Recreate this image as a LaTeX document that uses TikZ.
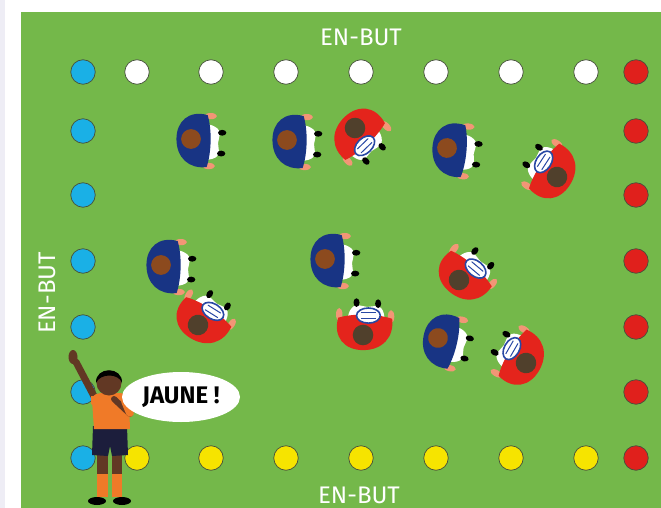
\documentclass[tikz,border=0pt]{standalone}
\usepackage{fontspec}
\setmainfont{Fira Sans}
\usetikzlibrary{shapes.geometric}

\definecolor{field}{RGB}{116,184,74}
\definecolor{edgegray}{RGB}{238,237,245}
\definecolor{coneblue}{RGB}{26,176,230}
\definecolor{conered}{RGB}{224,32,28}
\definecolor{coneyellow}{RGB}{246,228,0}
\definecolor{coneline}{RGB}{70,80,60}
\definecolor{navy}{RGB}{24,52,132}
\definecolor{redj}{RGB}{228,36,28}
\definecolor{skin}{RGB}{242,150,118}
\definecolor{headbrown}{RGB}{140,74,30}
\definecolor{headdark}{RGB}{80,64,44}
\definecolor{ballblue}{RGB}{40,72,164}
\definecolor{refskin}{RGB}{98,56,36}
\definecolor{refshirt}{RGB}{240,122,40}
\definecolor{refshorts}{RGB}{28,30,60}

% body of a player seen from above, facing local +x
\newcommand\playerbody[2]{%
  \fill[white] (4,-14) .. controls (18,-16) and (26,-12) .. (28,-6) -- (26,4)
     -- (27,13) .. controls (26,19) and (18,21) .. (4,20) -- cycle;
  \fill[black] (30,-6) ellipse [x radius=4pt, y radius=2.8pt];
  \fill[black] (29,14) ellipse [x radius=4pt, y radius=2.8pt];
  \fill[skin] (19,-22) ellipse [x radius=6pt, y radius=3pt];
  \fill[skin] (17,26) ellipse [x radius=6pt, y radius=3pt];
  \fill[#1] (16,-23) .. controls (-2,-28) and (-14,-17) .. (-14,0)
     .. controls (-14,18) and (-2,29) .. (15,27)
     .. controls (20,12) and (20,-10) .. (16,-23) -- cycle;
  \fill[#2] (0,0) circle [radius=9.5pt];
}
\newcommand\rugbyball{%
  \filldraw[fill=white, draw=ballblue, line width=1.6pt] (18,5) ellipse [x radius=7pt, y radius=11pt];
  \draw[ballblue, line width=1pt] (15.5,-2) -- (15.5,12) (20.5,-2) -- (20.5,12);
}

\tikzset{
  pics/blueplayer/.style={code={\playerbody{navy}{headbrown}}},
  pics/redplayer/.style={code={\playerbody{redj}{headdark}\rugbyball}},
  cone/.style={circle, draw=coneline, line width=0.7pt, minimum size=24.5pt, inner sep=0pt},
  goaltext/.style={text=white, font=\fontsize{24}{24}\selectfont, inner sep=0pt},
  bubble/.style={ellipse, fill=white, minimum width=118pt, minimum height=50pt, inner sep=0pt,
    font=\bfseries\fontsize{24}{24}\selectfont}
}

\begin{document}
\begin{tikzpicture}[x=1pt, y=-1pt]
\useasboundingbox (0,0) rectangle (661,508);
\fill[white] (0,0) rectangle (661,508);
\fill[edgegray] (0,0) rectangle (5,508);
\fill[field] (21,12) rectangle (661,508);

% goal-line labels
\node[goaltext] (topgoal) at (361,37) {EN-BUT};
\node[goaltext] (botgoal) at (359,495) {EN-BUT};
\node[goaltext, rotate=90] (leftgoal) at (47,293) {EN-BUT};

% cones along the four sides
\foreach \x [count=\i] in {137,211,286,361,436,511,586} {
  \node[cone, fill=white] (top\i) at (\x,72) {};
  \node[cone, fill=coneyellow] (bot\i) at (\x,458) {};
}
\foreach \y [count=\i] in {72,131,195,261,327,392,458} {
  \node[cone, fill=coneblue] (left\i) at (83,\y) {};
  \node[cone, fill=conered] (right\i) at (636,\y) {};
}

% blue team
\pic[scale=1.04] at (191,139) {blueplayer};
\pic[scale=1.04] at (287,140) {blueplayer};
\pic[scale=1.04, rotate=-4] at (447,148) {blueplayer};
\pic[scale=1.04] at (161,265) {blueplayer};
\pic[scale=1.04] at (325,259) {blueplayer};
\pic[scale=1.04, rotate=-12] at (438,338) {blueplayer};

% red team, each holding a ball
\pic[scale=1.08, rotate=-46] at (355,128) {redplayer};
\pic[scale=1.08, rotate=147] at (557,177) {redplayer};
\pic[scale=1.08, rotate=58] at (198,325) {redplayer};
\pic[scale=1.08, rotate=90] at (363,335) {redplayer};
\pic[scale=1.08, rotate=50] at (459,280) {redplayer};
\pic[scale=1.08, rotate=150] at (526,363) {redplayer};

% referee
\draw[refskin, line width=7pt, line cap=round] (96,400) -- (76,362);
\fill[refskin] (73,357) ellipse [x radius=4.5pt, y radius=7pt];
\fill[refskin] (97,455) rectangle (108,476);
\fill[refskin] (112,455) rectangle (122,476);
\fill[refshirt] (97,474) rectangle (108,497);
\fill[refshirt] (112,474) rectangle (122,497);
\fill[black] (97,501) ellipse [x radius=9pt, y radius=4pt];
\fill[black] (122,501) ellipse [x radius=9pt, y radius=4pt];
\fill[refshorts] (93,426) -- (127,426) -- (128,455) -- (112,456) -- (110,446) -- (108,456) -- (92,455) -- cycle;
\fill[refshirt] (92,400) .. controls (92,394) and (98,393) .. (104,393) -- (118,393)
   .. controls (126,393) and (129,396) .. (129,402) -- (130,429) -- (94,429) -- cycle;
\fill[refshirt] (91,396) -- (99,396) -- (98,408) -- (91,404) -- cycle;
\fill[refskin] (109,383) circle [radius=12.5pt];
\fill[black] (96,383) .. controls (95,366) and (123,366) .. (122,383)
   .. controls (119,373) and (100,373) .. cycle;
\draw[refskin, line width=6pt, line cap=round] (130,414) -- (114,399);
\draw[refshirt, line width=8pt, line cap=round] (125,401) -- (130,413);

% call
\node[bubble] (call) at (181,397) {JAUNE !};
\end{tikzpicture}
\end{document}
